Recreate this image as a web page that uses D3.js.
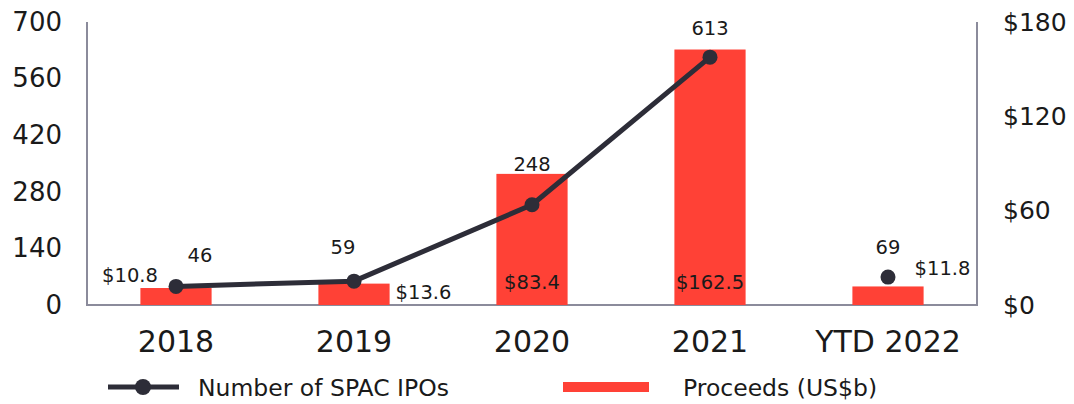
<!DOCTYPE html>
<html>
<head>
<meta charset="utf-8">
<script src="https://cdn.jsdelivr.net/npm/d3@7"></script>
<style>
  html, body { margin: 0; padding: 0; background: #fff; }
  svg { display: block; font-family: "DejaVu Sans", Verdana, sans-serif; }
</style>
</head>
<body>
<svg id="chart" width="1074" height="404"></svg>
<script>
// SPAC IPO activity by year
const categories = ["2018", "2019", "2020", "2021", "YTD 2022"];
const spacCount = [46, 59, 248, 613, 69];          // number of SPAC IPOs (left axis)
const proceeds = [10.8, 13.6, 83.4, 162.5, 11.8];   // proceeds in US$b (right axis)
const countTicks = [0, 140, 280, 420, 560, 700];
const proceedsTicks = [0, 60, 120, 180];

const svg = d3.select("#chart");
const plotLeft = 87, plotRight = 977, plotTop = 22, plotBottom = 305;
const barColor = "#ff4136";
const lineColor = "#2d2d38";
const axisColor = "#8b8b9b";
const textColor = "#1a1a1a";

const x = d3.scaleBand().domain(categories).range([plotLeft, plotRight])
  .paddingInner(0.6).paddingOuter(0.3);
const yCount = d3.scaleLinear().domain([0, 700]).range([plotBottom, plotTop]);
const yProc = d3.scaleLinear().domain([0, 180]).range([plotBottom, plotTop]);

// Frame: left, bottom and right rules
svg.append("path")
  .attr("d", `M${plotLeft},${plotTop}V${plotBottom}H${plotRight}V${plotTop}`)
  .attr("fill", "none").attr("stroke", axisColor).attr("stroke-width", 2);

// Left axis labels (count)
const leftAxis = d3.axisLeft(yCount).tickValues(countTicks).tickSize(0).tickPadding(25);
svg.append("g").attr("transform", `translate(${plotLeft},0)`).call(leftAxis)
  .call(g => g.select(".domain").remove())
  .selectAll("text").attr("font-size", 26).attr("fill", textColor)
  .attr("font-family", "DejaVu Sans, sans-serif");

// Right axis labels (proceeds)
const rightAxis = d3.axisRight(yProc).tickValues(proceedsTicks).tickSize(0).tickPadding(26)
  .tickFormat(d => "$" + d);
svg.append("g").attr("transform", `translate(${plotRight},0)`).call(rightAxis)
  .call(g => g.select(".domain").remove())
  .selectAll("text").attr("font-size", 25).attr("fill", textColor)
  .attr("font-family", "DejaVu Sans, sans-serif");

// Category labels
const bottomAxis = d3.axisBottom(x).tickSize(0).tickPadding(26);
svg.append("g").attr("transform", `translate(0,${plotBottom})`).call(bottomAxis)
  .call(g => g.select(".domain").remove())
  .selectAll("text").attr("font-size", 30).attr("fill", textColor)
  .attr("font-family", "DejaVu Sans, sans-serif");

// Proceeds bars
const data = categories.map((c, i) => ({ c, n: spacCount[i], p: proceeds[i] }));
svg.append("g").selectAll("rect").data(data).join("rect")
  .attr("x", d => x(d.c))
  .attr("y", d => yProc(d.p))
  .attr("width", x.bandwidth())
  .attr("height", d => yProc(0) - yProc(d.p))
  .attr("fill", barColor);

// SPAC count line (2018-2021), with YTD 2022 as a standalone point
const cx = d => x(d.c) + x.bandwidth() / 2;
const lineData = data.slice(0, 4);
svg.append("path").datum(lineData)
  .attr("d", d3.line().x(cx).y(d => yCount(d.n)))
  .attr("fill", "none").attr("stroke", lineColor).attr("stroke-width", 5)
  .attr("stroke-linejoin", "round");
svg.append("g").selectAll("circle").data(data).join("circle")
  .attr("cx", cx).attr("cy", d => yCount(d.n)).attr("r", 7.5)
  .attr("fill", lineColor);

// Value labels
const labelFont = 19.5;
const countLabelPos = [
  { dx: 24, dy: -24, anchor: "middle" },
  { dx: -11, dy: -27, anchor: "middle" },
  { dx: 0, dy: -34, anchor: "middle" },
  { dx: 0, dy: -22, anchor: "middle" },
  { dx: 0, dy: -23, anchor: "middle" }
];
svg.append("g").selectAll("text").data(data).join("text")
  .attr("x", (d, i) => cx(d) + countLabelPos[i].dx)
  .attr("y", (d, i) => yCount(d.n) + countLabelPos[i].dy)
  .attr("text-anchor", (d, i) => countLabelPos[i].anchor)
  .attr("font-size", labelFont).attr("fill", textColor)
  .text(d => d.n);

const procLabelPos = [
  { x: d => cx(d) - 46, y: d => yProc(d.p) - 6, anchor: "middle" },
  { x: d => x(d.c) + x.bandwidth() + 6, y: d => yProc(d.p) + 15, anchor: "start" },
  { x: d => cx(d), y: () => 289, anchor: "middle" },
  { x: d => cx(d), y: () => 289, anchor: "middle" },
  { x: d => x(d.c) + x.bandwidth() - 9, y: d => yProc(d.p) - 11, anchor: "start" }
];
svg.append("g").selectAll("text").data(data).join("text")
  .attr("x", (d, i) => procLabelPos[i].x(d))
  .attr("y", (d, i) => procLabelPos[i].y(d))
  .attr("text-anchor", (d, i) => procLabelPos[i].anchor)
  .attr("font-size", labelFont).attr("fill", textColor)
  .text(d => "$" + d.p);

// Legend
const legend = svg.append("g");
legend.append("line").attr("x1", 108).attr("x2", 179).attr("y1", 387).attr("y2", 387)
  .attr("stroke", lineColor).attr("stroke-width", 5);
legend.append("circle").attr("cx", 143).attr("cy", 387).attr("r", 8).attr("fill", lineColor);
legend.append("text").attr("x", 198).attr("y", 396).attr("font-size", 23.5)
  .attr("fill", textColor).text("Number of SPAC IPOs");
legend.append("rect").attr("x", 563).attr("y", 382).attr("width", 86).attr("height", 10)
  .attr("fill", barColor);
legend.append("text").attr("x", 683).attr("y", 396).attr("font-size", 23.5)
  .attr("fill", textColor).text("Proceeds (US$b)");
</script>
</body>
</html>
